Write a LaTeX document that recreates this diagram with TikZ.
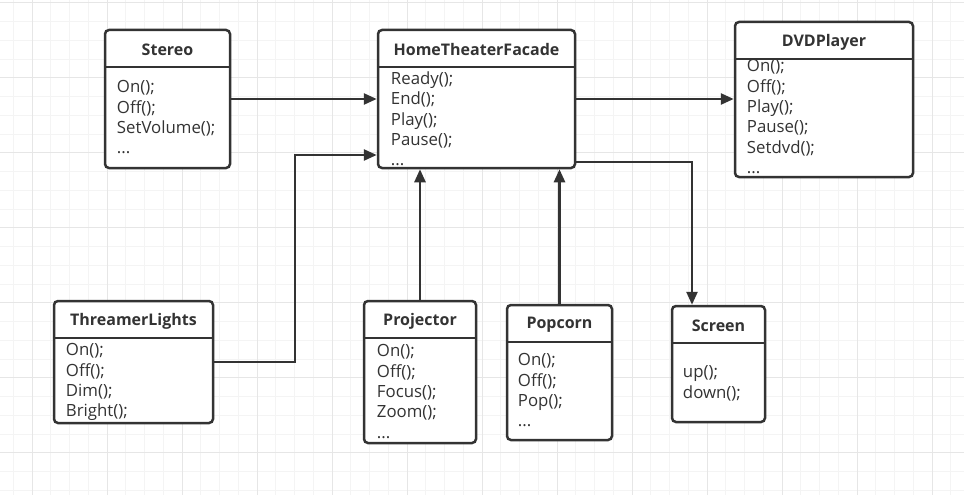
\documentclass[tikz,border=0pt]{standalone}
\usepackage{fontspec}
\setmainfont{Open Sans}
\usetikzlibrary{positioning,arrows.meta,calc}
\definecolor{boxdraw}{HTML}{333333}
\definecolor{gridminor}{HTML}{F4F4F4}
\definecolor{gridmajor}{HTML}{E6E6E6}
\tikzset{
  classbox/.style={draw=boxdraw,line width=2.5pt,rounded corners=4pt,fill=white,inner sep=0pt},
  classtitle/.style={font=\fontsize{16}{19}\selectfont\bfseries,text=boxdraw,minimum height=34pt,inner sep=0pt,anchor=north},
  classitems/.style={font=\fontsize{16.8}{20.3}\selectfont,text=boxdraw,align=left,inner sep=0pt,anchor=north west},
  divider/.style={draw=boxdraw,line width=2.5pt},
  link/.style={-{Triangle[length=13pt,width=11pt]},draw=boxdraw,line width=2.5pt},
}

\begin{document}
\begin{tikzpicture}[x=1pt,y=-1pt]
\useasboundingbox (0,0) rectangle (964,495);
% background grid
\foreach \i in {0,...,50} \draw[gridminor,line width=0.8pt] ({13.25+18.75*\i},0) -- ({13.25+18.75*\i},495);
\foreach \i in {0,...,26} \draw[gridminor,line width=0.8pt] (0,{2.7+18.75*\i}) -- (964,{2.7+18.75*\i});
\foreach \i in {0,...,12} \draw[gridmajor,line width=1pt] ({32+75*\i},0) -- ({32+75*\i},495);
\foreach \i in {0,...,6} \draw[gridmajor,line width=1pt] (0,{2.7+75*\i}) -- (964,{2.7+75*\i});

% classes
\node[classbox,minimum width=125pt,minimum height=138pt] (stereo) at (167.5,99) {};
\node[classtitle] (stereo-t) at ([yshift=-4pt]stereo.north) {Stereo};
\draw[divider] (stereo.west |- stereo-t.south) -- (stereo.east |- stereo-t.south);
\node[classitems] (stereo-m) at ($(stereo.west |- stereo-t.south)+(13,13.4)$) {On();\\Off();\\SetVolume();\\...};

\node[classbox,minimum width=197pt,minimum height=138pt] (facade) at (476.5,99) {};
\node[classtitle] (facade-t) at ([yshift=-4pt]facade.north) {HomeTheaterFacade};
\draw[divider] (facade.west |- facade-t.south) -- (facade.east |- facade-t.south);
\node[classitems] (facade-m) at ($(facade.west |- facade-t.south)+(14,4.4)$) {Ready();\\End();\\Play();\\Pause();\\...};

\node[classbox,minimum width=178pt,minimum height=155pt] (dvd) at (824,99.5) {};
\node[classtitle] (dvd-t) at ([yshift=-4pt]dvd.north) {DVDPlayer};
\draw[divider] (dvd.west |- dvd-t.south) -- (dvd.east |- dvd-t.south);
\node[classitems] (dvd-m) at ($(dvd.west |- dvd-t.south)+(13,0.4)$) {On();\\Off();\\Play();\\Pause();\\Setdvd();\\...};

\node[classbox,minimum width=159pt,minimum height=122pt] (lights) at (133.5,362) {};
\node[classtitle] (lights-t) at ([yshift=-4pt]lights.north) {ThreamerLights};
\draw[divider] (lights.west |- lights-t.south) -- (lights.east |- lights-t.south);
\node[classitems] (lights-m) at ($(lights.west |- lights-t.south)+(13,5.4)$) {On();\\Off();\\Dim();\\Bright();};

\node[classbox,minimum width=112pt,minimum height=142pt] (projector) at (420,372) {};
\node[classtitle] (projector-t) at ([yshift=-4pt]projector.north) {Projector};
\draw[divider] (projector.west |- projector-t.south) -- (projector.east |- projector-t.south);
\node[classitems] (projector-m) at ($(projector.west |- projector-t.south)+(14,6.4)$) {On();\\Off();\\Focus();\\Zoom();\\...};

\node[classbox,minimum width=105pt,minimum height=135pt] (popcorn) at (559.5,372.5) {};
\node[classtitle] (popcorn-t) at ([yshift=-4pt]popcorn.north) {Popcorn};
\draw[divider] (popcorn.west |- popcorn-t.south) -- (popcorn.east |- popcorn-t.south);
\node[classitems] (popcorn-m) at ($(popcorn.west |- popcorn-t.south)+(12,11.4)$) {On();\\Off();\\Pop();\\...};

\node[classbox,minimum width=93pt,minimum height=116pt] (screen) at (718.5,364) {};
\node[classtitle] (screen-t) at ([yshift=-4pt]screen.north) {Screen};
\draw[divider] (screen.west |- screen-t.south) -- (screen.east |- screen-t.south);
\node[classitems] (screen-m) at ($(screen.west |- screen-t.south)+(12,22.4)$) {up();\\down();};

% associations
\coordinate (lights-bend) at (295,155);
\coordinate (screen-bend) at (692,162);
\draw[link] (stereo.east) -- (facade.west);
\draw[link] (facade.east) -- (facade.east -| dvd.west);
\draw[link] (lights.east) -| (lights-bend) -- (lights-bend -| facade.west);
\draw[link] (projector.north) -- (projector.north |- facade.south);
\draw[link] (popcorn.north) -- (popcorn.north |- facade.south);
\draw[link] (facade.east |- screen-bend) -- (screen-bend) -- (screen-bend |- screen.north);
\end{tikzpicture}
\end{document}
